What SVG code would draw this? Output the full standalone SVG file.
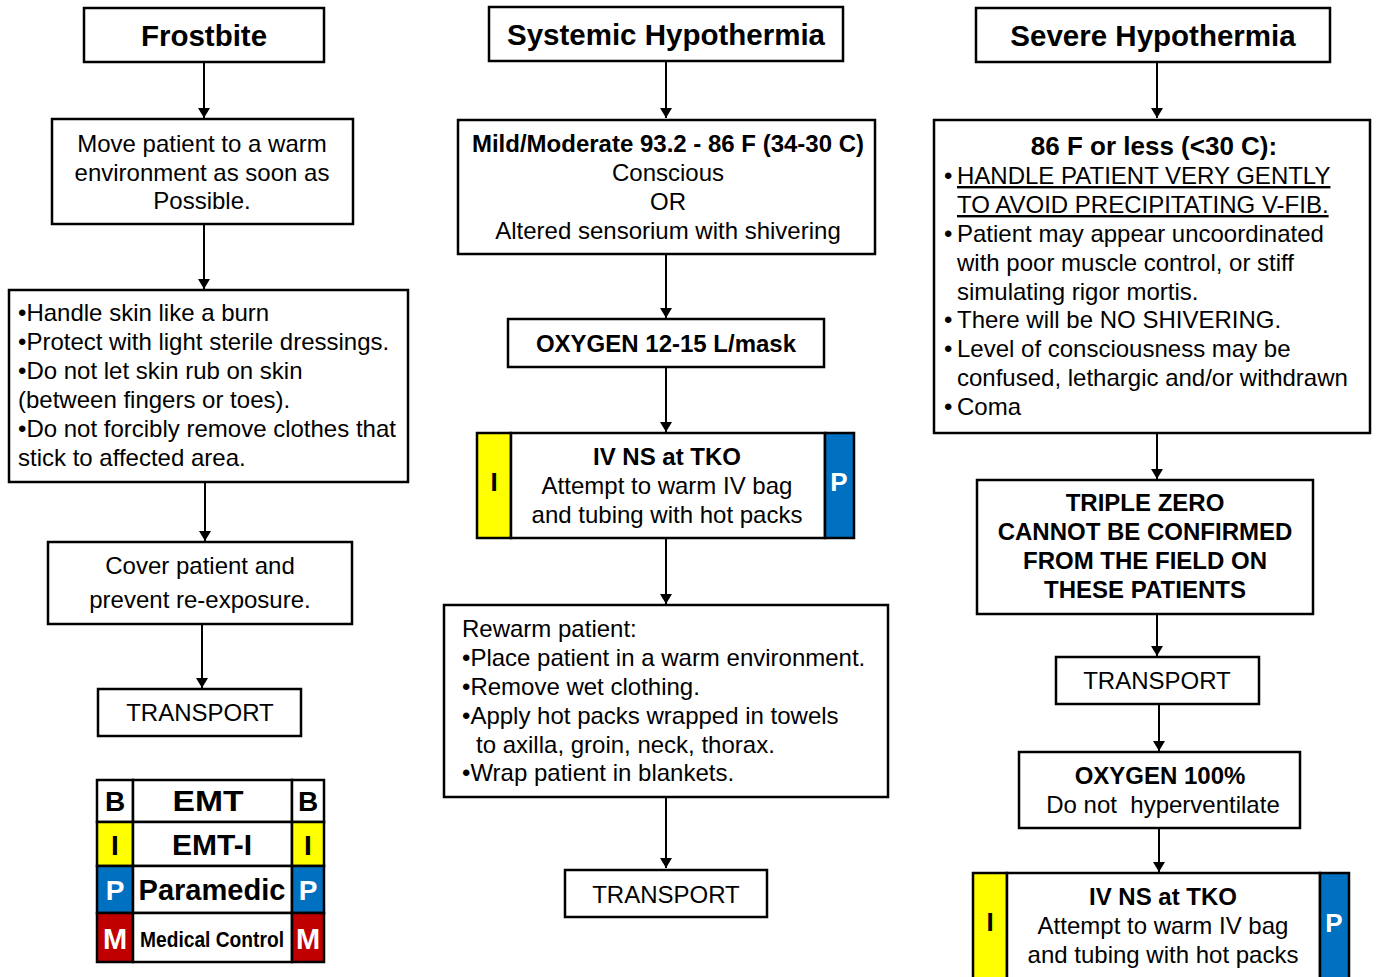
<svg xmlns="http://www.w3.org/2000/svg" width="1378" height="977" viewBox="0 0 1378 977">
<defs>
<marker id="ah" viewBox="0 0 10 12" refX="10" refY="6" markerWidth="10" markerHeight="12" markerUnits="userSpaceOnUse" orient="auto"><path d="M0,0 L10,6 L0,12 Z" fill="#000"/></marker>
<style>
.box{fill:#fff;stroke:#000;stroke-width:2.5}
.t{font-family:"Liberation Sans",Arial,sans-serif;font-size:24px;fill:#000}
.b{font-weight:bold}
.big{font-size:26px}
.title{font-family:"Liberation Sans",Arial,sans-serif;font-size:29.5px;font-weight:bold;text-anchor:middle}
.c{text-anchor:middle}
.w{fill:#fff}
.conn line{stroke:#000;stroke-width:2;marker-end:url(#ah)}
.yel{fill:#FFFF00;stroke:#000;stroke-width:2.5}
.blu{fill:#0070C0;stroke:#000;stroke-width:2.5}
.red{fill:#C00000;stroke:#000;stroke-width:2.5}
.cell{fill:#fff;stroke:#000;stroke-width:2.5}
.lg{font-family:"Liberation Sans",Arial,sans-serif;font-weight:bold;text-anchor:middle}
</style>
</defs>
<rect width="1378" height="977" fill="#fff"/>

<g class="conn">
<line x1="204" y1="62" x2="204" y2="118"/>
<line x1="204" y1="224" x2="204" y2="289"/>
<line x1="205" y1="482" x2="205" y2="541"/>
<line x1="202" y1="624" x2="202" y2="688"/>
<line x1="666" y1="61" x2="666" y2="118"/>
<line x1="666" y1="254" x2="666" y2="318"/>
<line x1="666" y1="367" x2="666" y2="432"/>
<line x1="666" y1="538" x2="666" y2="604"/>
<line x1="666" y1="797" x2="666" y2="868"/>
<line x1="1157" y1="62" x2="1157" y2="118"/>
<line x1="1157" y1="433" x2="1157" y2="479"/>
<line x1="1157" y1="614" x2="1157" y2="656"/>
<line x1="1159" y1="704" x2="1159" y2="751"/>
<line x1="1159" y1="828" x2="1159" y2="872"/>
</g>

<!-- Left column -->
<g id="frostbite">
<rect class="box" x="84" y="8" width="240" height="54"/>
<text class="title" x="204" y="46">Frostbite</text>
</g>
<g id="move-patient">
<rect class="box" x="52" y="119" width="301" height="105"/>
<text class="t c" x="202" y="152">Move patient to a warm</text>
<text class="t c" x="202" y="181">environment as soon as</text>
<text class="t c" x="202" y="209">Possible.</text>
</g>
<g id="handle-skin">
<rect class="box" x="9" y="290" width="399" height="192"/>
<text class="t" x="18" y="321">•Handle skin like a burn</text>
<text class="t" x="18" y="350">•Protect with light sterile dressings.</text>
<text class="t" x="18" y="379">•Do not let skin rub on skin</text>
<text class="t" x="18" y="408">(between fingers or toes).</text>
<text class="t" x="18" y="437">•Do not forcibly remove clothes that</text>
<text class="t" x="18" y="466">stick to affected area.</text>
</g>
<g id="cover-patient">
<rect class="box" x="48" y="542" width="304" height="82"/>
<text class="t c" x="200" y="574">Cover patient and</text>
<text class="t c" x="200" y="608">prevent re-exposure.</text>
</g>
<g id="transport-left">
<rect class="box" x="98" y="689" width="203" height="47"/>
<text class="t c" x="200" y="721">TRANSPORT</text>
</g>
<g id="legend">
<rect class="cell" x="97" y="780" width="36" height="42"/>
<rect class="cell" x="133" y="780" width="159" height="42"/>
<rect class="cell" x="292" y="780" width="32" height="42"/>
<rect class="yel" x="97" y="822" width="36" height="44"/>
<rect class="cell" x="133" y="822" width="159" height="44"/>
<rect class="yel" x="292" y="822" width="32" height="44"/>
<rect class="blu" x="97" y="866" width="36" height="47"/>
<rect class="cell" x="133" y="866" width="159" height="47"/>
<rect class="blu" x="292" y="866" width="32" height="47"/>
<rect class="red" x="97" y="913" width="36" height="49"/>
<rect class="cell" x="133" y="913" width="159" height="49"/>
<rect class="red" x="292" y="913" width="32" height="49"/>
<text class="lg" x="115" y="811" font-size="28">B</text>
<text class="lg" x="208" y="811" font-size="30" textLength="71" lengthAdjust="spacingAndGlyphs">EMT</text>
<text class="lg" x="308" y="811" font-size="28">B</text>
<text class="lg" x="115" y="855" font-size="28">I</text>
<text class="lg" x="212" y="855" font-size="30" textLength="80" lengthAdjust="spacingAndGlyphs">EMT-I</text>
<text class="lg" x="308" y="855" font-size="28">I</text>
<text class="lg w" x="115" y="900" font-size="28">P</text>
<text class="lg" x="212" y="900" font-size="30" textLength="147" lengthAdjust="spacingAndGlyphs">Paramedic</text>
<text class="lg w" x="308" y="900" font-size="28">P</text>
<text class="lg w" x="115" y="949" font-size="29">M</text>
<text class="lg" transform="translate(212,947) scale(1,1.15)" x="0" y="0" font-size="19.2">Medical Control</text>
<text class="lg w" x="308" y="949" font-size="29">M</text>
</g>

<!-- Middle column -->
<g id="systemic">
<rect class="box" x="489" y="7" width="354" height="54"/>
<text class="title" x="666" y="45">Systemic Hypothermia</text>
</g>
<g id="mild-moderate">
<rect class="box" x="458" y="120" width="417" height="134"/>
<text class="t c b" x="668" y="152">Mild/Moderate 93.2 - 86 F (34-30 C)</text>
<text class="t c" x="668" y="181">Conscious</text>
<text class="t c" x="668" y="210">OR</text>
<text class="t c" x="668" y="239">Altered sensorium with shivering</text>
</g>
<g id="oxygen-mid">
<rect class="box" x="508" y="319" width="316" height="48"/>
<text class="t c b" x="666" y="352">OXYGEN 12-15 L/mask</text>
</g>
<g id="iv-mid">
<rect class="yel" x="477" y="433" width="34" height="105"/>
<rect class="box" x="511" y="433" width="314" height="105"/>
<rect class="blu" x="825" y="433" width="29" height="105"/>
<text class="t b c big" x="494" y="491">I</text>
<text class="t b c w big" x="839" y="491">P</text>
<text class="t c b" x="667" y="465">IV NS at TKO</text>
<text class="t c" x="667" y="494">Attempt to warm IV bag</text>
<text class="t c" x="667" y="523">and tubing with hot packs</text>
</g>
<g id="rewarm">
<rect class="box" x="444" y="605" width="444" height="192"/>
<text class="t" x="462" y="637">Rewarm patient:</text>
<text class="t" x="462" y="666">•Place patient in a warm environment.</text>
<text class="t" x="462" y="695">•Remove wet clothing.</text>
<text class="t" x="462" y="724">•Apply hot packs wrapped in towels</text>
<text class="t" x="476" y="753">to axilla, groin, neck, thorax.</text>
<text class="t" x="462" y="781">•Wrap patient in blankets.</text>
</g>
<g id="transport-mid">
<rect class="box" x="565" y="870" width="202" height="47"/>
<text class="t c" x="666" y="903">TRANSPORT</text>
</g>

<!-- Right column -->
<g id="severe">
<rect class="box" x="976" y="8" width="354" height="54"/>
<text class="title" x="1153" y="46">Severe Hypothermia</text>
</g>
<g id="under-86">
<rect class="box" x="934" y="120" width="436" height="313"/>
<text class="t c b big" x="1154" y="155">86 F or less (&lt;30 C):</text>
<text class="t" x="944" y="184">•</text>
<text class="t" x="957" y="184" text-decoration="underline">HANDLE PATIENT VERY GENTLY</text>
<text class="t" x="957" y="213" text-decoration="underline">TO AVOID PRECIPITATING V-FIB.</text>
<text class="t" x="944" y="242">•</text>
<text class="t" x="957" y="242">Patient may appear uncoordinated</text>
<text class="t" x="957" y="271">with poor muscle control, or stiff</text>
<text class="t" x="957" y="300">simulating rigor mortis.</text>
<text class="t" x="944" y="328">•</text>
<text class="t" x="957" y="328">There will be NO SHIVERING.</text>
<text class="t" x="944" y="357">•</text>
<text class="t" x="957" y="357">Level of consciousness may be</text>
<text class="t" x="957" y="386">confused, lethargic and/or withdrawn</text>
<text class="t" x="944" y="415">•</text>
<text class="t" x="957" y="415">Coma</text>
</g>
<g id="triple-zero">
<rect class="box" x="977" y="480" width="336" height="134"/>
<text class="t c b" x="1145" y="511">TRIPLE ZERO</text>
<text class="t c b" x="1145" y="540">CANNOT BE CONFIRMED</text>
<text class="t c b" x="1145" y="569">FROM THE FIELD ON</text>
<text class="t c b" x="1145" y="598">THESE PATIENTS</text>
</g>
<g id="transport-right">
<rect class="box" x="1056" y="657" width="203" height="47"/>
<text class="t c" x="1157" y="689">TRANSPORT</text>
</g>
<g id="oxygen-right">
<rect class="box" x="1019" y="752" width="281" height="76"/>
<text class="t c b" x="1160" y="784">OXYGEN 100%</text>
<text class="t c" x="1163" y="813" xml:space="preserve">Do not  hyperventilate</text>
</g>
<g id="iv-right">
<rect class="yel" x="973" y="873" width="34" height="110"/>
<rect class="box" x="1007" y="873" width="313" height="110"/>
<rect class="blu" x="1320" y="873" width="29" height="110"/>
<text class="t b c big" x="990" y="931">I</text>
<text class="t b c w big" x="1334" y="932">P</text>
<text class="t c b" x="1163" y="905">IV NS at TKO</text>
<text class="t c" x="1163" y="934">Attempt to warm IV bag</text>
<text class="t c" x="1163" y="963">and tubing with hot packs</text>
</g>
</svg>
